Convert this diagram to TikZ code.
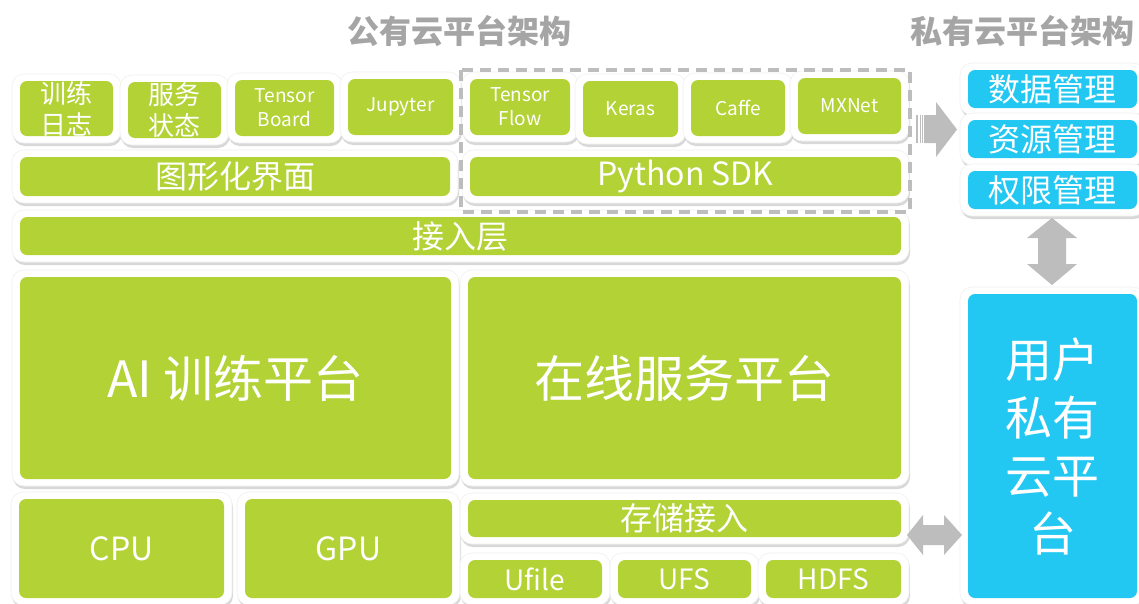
\documentclass[tikz,border=0pt]{standalone}
\usepackage{fontspec}
\setmainfont{Noto Sans CJK SC}
\usetikzlibrary{fit,shadows}
\definecolor{lime}{HTML}{B2D235}
\definecolor{sky}{HTML}{22C8F2}
\definecolor{ttl}{HTML}{A5A5A5}
\definecolor{arr}{HTML}{BDBDBD}
\pgfdeclarelayer{bg}
\pgfsetlayers{bg,main}
\tikzset{
  frame/.style={fill=white, draw=black!6, line width=0.6pt, rounded corners=12pt,
    drop shadow={opacity=0.3, shadow xshift=1pt, shadow yshift=-3pt}},
  gbox/.style={fill=lime, rounded corners=7pt, inner sep=0pt},
  bbox/.style={gbox, fill=sky},
  lbl/.style={text=white, align=center, inner sep=0pt},
  title/.style={text=ttl, font=\bfseries\fontsize{32}{36}\selectfont},
  fsA/.style={font=\fontsize{26}{31}\selectfont},
  fsT/.style={font=\fontsize{19}{24}\selectfont},
  fsM/.style={font=\fontsize{32}{36}\selectfont},
  fsL/.style={font=\fontsize{50}{58}\selectfont},
  fsU/.style={font=\fontsize{47}{58}\selectfont},
  fsS/.style={font=\fontsize{28}{30}\selectfont},
}
\newcommand\cell[8][gbox]{%
  \pgfmathsetmacro\ax{#4-8}\pgfmathsetmacro\ay{#5-7}%
  \pgfmathsetmacro\bx{#6+8}\pgfmathsetmacro\by{#7+7}%
  \begin{pgfonlayer}{bg}\path[frame] (\ax,\ay) rectangle (\bx,\by);\end{pgfonlayer}
  \node[#1, fit={(#4,#5) (#6,#7)}] (#3) {};
  \node[lbl,#2] (#3-t) at (#3.center) {#8};}
\begin{document}
\begin{tikzpicture}[x=1pt,y=-1pt]
\begin{pgfonlayer}{bg}
\fill[white] (0,0) rectangle (1139,603);
\end{pgfonlayer}
\useasboundingbox (0,0) rectangle (1139,603);

% titles
\node[title] (t1) at (459,31) {公有云平台架构};
\node[title] (t2) at (1022,31) {私有云平台架构};

% row 1
\cell{fsA}{log}{20}{81}{113}{136}{训练\\日志}
\cell{fsA}{svc}{128}{82}{221}{138}{服务\\状态}
\cell{fsT}{tb}{235}{80}{334}{136}{Tensor\\Board}
\cell{fsT}{jup}{348}{79}{453}{135}{Jupyter}
\cell{fsT}{tf}{470}{79}{570}{135}{Tensor\\Flow}
\cell{fsT}{ker}{583}{81}{678}{137}{Keras}
\cell{fsT}{caf}{691}{80}{785}{136}{Caffe}
\cell{fsT}{mxn}{798}{78}{901}{134}{MXNet}

% row 2
\cell{fsM}{gui}{20}{157}{450}{196}{图形化界面}
\cell{fsM}{sdk}{470}{157}{901}{196}{Python SDK}

% access layer
\cell{fsM}{acc}{20}{217}{901}{255}{接入层}

% platforms
\cell{fsL}{ai}{20}{277}{451}{479}{AI 训练平台}
\cell{fsL}{online}{468}{277}{901}{479}{在线服务平台}

% hardware & storage
\cell{fsM}{cpu}{19}{499}{224}{598}{CPU}
\cell{fsM}{gpu}{245}{499}{452}{598}{GPU}
\cell{fsM}{sto}{468}{500}{901}{537}{存储接入}
\cell{fsS}{ufile}{468}{560}{602}{598}{Ufile}
\cell{fsS}{ufs}{618}{560}{751}{598}{UFS}
\cell{fsS}{hdfs}{766}{560}{901}{598}{HDFS}

% private cloud
\cell[bbox]{fsM}{data}{968}{70}{1137}{108}{数据管理}
\cell[bbox]{fsM}{res}{968}{120}{1137}{158}{资源管理}
\cell[bbox]{fsM}{perm}{968}{171}{1137}{209}{权限管理}
\cell[bbox]{fsU}{user}{968}{294}{1137}{598}{用户\\私有\\云平\\台}

% dashed group
\draw[arr, line width=3.5pt, dash pattern=on 11pt off 7pt] (461,70) rectangle (910,212);

% right arrow with striped tail
\fill[arr] (924,115) -- (936,115) -- (936,102) -- (957,129.5) -- (936,157) -- (936,143) -- (924,143) -- cycle;
\fill[arr] (916,115) rectangle (918,143);
\fill[arr] (919.5,115) rectangle (921,143);
\fill[arr] (922,115) rectangle (923.3,143);

% vertical double arrow
\fill[arr] (1052,218) -- (1077,238) -- (1066,238) -- (1066,264) -- (1077,264) -- (1052,285)
  -- (1027,264) -- (1038,264) -- (1038,238) -- (1027,238) -- cycle;

% horizontal double arrow
\fill[arr] (907,535) -- (923,515) -- (923,525) -- (944,525) -- (944,515) -- (962,535)
  -- (944,555) -- (944,545) -- (923,545) -- (923,555) -- cycle;
\end{tikzpicture}
\end{document}
